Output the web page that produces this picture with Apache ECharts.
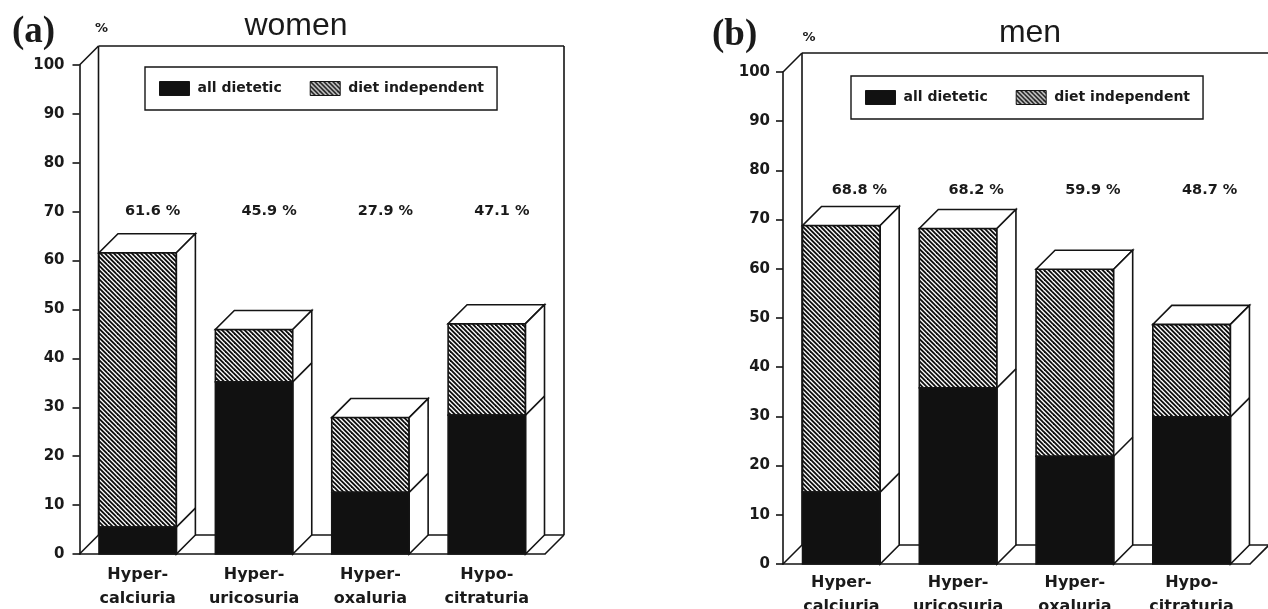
<!DOCTYPE html>
<html><head><meta charset="utf-8">
<script src="https://cdn.jsdelivr.net/npm/echarts/dist/echarts.min.js"></script>
<style>html,body{margin:0;padding:0;background:#fff}#c{width:1268px;height:609px}</style>
</head><body><div id="c"></div>
<script>
// ---- data ----
const categories = ['Hyper-\ncalciuria', 'Hyper-\nuricosuria', 'Hyper-\noxaluria', 'Hypo-\ncitraturia'];
const womenTotal = [61.6, 45.9, 27.9, 47.1];
const womenDietetic = [5.5, 35.2, 12.6, 28.4];
const menTotal = [68.8, 68.2, 59.9, 48.7];
const menDietetic = [14.6, 35.8, 21.9, 29.9];
const seriesNames = ['all dietetic', 'diet independent'];
const panelTitles = ['women', 'men'];
const panelTags = ['(a)', '(b)'];
const yMin = 0, yMax = 100, yStep = 10;

// ---- styles ----
const DX = 19, DY = -19;
const BAR_RATIO = 0.665;
const INK = '#141414';
const BLACK = '#111111';
const SANS = 'DejaVu Sans';
const LW = 1.6;

function makeHatch() {
  const n = 9;
  const c = document.createElement('canvas');
  c.width = n; c.height = n;
  const g = c.getContext('2d');
  g.fillStyle = '#fff'; g.fillRect(0, 0, n, n);
  g.strokeStyle = '#0e0e0e'; g.lineWidth = 1.9;
  for (let k = -4; k <= 4; k++) {
    const o = k * 4.5;
    g.beginPath(); g.moveTo(o - 3, -3); g.lineTo(o + n + 3, n + 3); g.stroke();
  }
  return c;
}
const HATCH = { image: makeHatch(), repeat: 'repeat' };

function frameRender(params, api) {
  const cs = params.coordSys;
  const x0 = cs.x, x1 = cs.x + cs.width, yT = cs.y, yB = cs.y + cs.height;
  const segs = [
    [x0, yT, x0 + DX, yT + DY],
    [x0 + DX, yT + DY, x1 + DX, yT + DY],
    [x0 + DX, yT + DY, x0 + DX, yB + DY],
    [x1 + DX, yT + DY, x1 + DX, yB + DY],
    [x0, yB, x0 + DX, yB + DY],
    [x0 + DX, yB + DY, x1 + DX, yB + DY],
    [x1, yB, x1 + DX, yB + DY]
  ];
  return { type: 'group', children: segs.map(s => ({
    type: 'line', shape: { x1: s[0], y1: s[1], x2: s[2], y2: s[3] },
    style: { stroke: INK, lineWidth: LW, fill: null }
  })) };
}

function dietRender(params, api) {
  const i = api.value(0);
  const base = api.coord([i, 0]);
  const mid = api.coord([i, api.value(1)]);
  const w = api.size([1, 0])[0] * BAR_RATIO;
  const L = base[0] - w / 2;
  return { type: 'rect', shape: { x: L, y: mid[1], width: w, height: base[1] - mid[1] },
    style: { fill: BLACK, stroke: INK, lineWidth: LW } };
}

function makeIndepRender(labelLevel, labelDx) {
  return function (params, api) {
    const i = api.value(0), d = api.value(1), t = api.value(2);
    const base = api.coord([i, 0]), mid = api.coord([i, d]), top = api.coord([i, t]);
    const w = api.size([1, 0])[0] * BAR_RATIO;
    const L = base[0] - w / 2, R = L + w;
    const st = { stroke: INK, lineWidth: LW };
    const ly = api.coord([i, labelLevel])[1];
    return { type: 'group', children: [
      { type: 'rect', shape: { x: L, y: top[1], width: w, height: mid[1] - top[1] },
        style: Object.assign({ fill: HATCH }, st) },
      { type: 'polygon', shape: { points: [[L, top[1]], [R, top[1]], [R + DX, top[1] + DY], [L + DX, top[1] + DY]] },
        style: Object.assign({ fill: '#fff' }, st) },
      { type: 'polygon', shape: { points: [[R, top[1]], [R + DX, top[1] + DY], [R + DX, base[1] + DY], [R, base[1]]] },
        style: Object.assign({ fill: '#fff' }, st) },
      { type: 'line', shape: { x1: R, y1: mid[1], x2: R + DX, y2: mid[1] + DY },
        style: { stroke: INK, lineWidth: LW } },
      { type: 'text', x: base[0] + labelDx, y: ly,
        style: { text: t.toFixed(1) + ' %', fill: '#1a1a1a', font: 'bold 14.5px "DejaVu Sans"', align: 'center', verticalAlign: 'middle' } }
    ] };
  };
}

const panels = [
  { grid: { left: 79.5, top: 65, width: 465.5, height: 489 }, total: womenTotal, diet: womenDietetic,
    labelLevel: 70, labelDx: 15, legend: { left: 145, top: 67 }, title: { left: 296, top: 10 },
    tag: { x: 12, y: 14 }, pct: [0, 0, 0, 44], nameGap: 30, xMargin: 9, yMargin: 15 },
  { grid: { left: 783, top: 72, width: 467, height: 492 }, total: menTotal, diet: menDietetic,
    labelLevel: 76, labelDx: 18, legend: { left: 851, top: 76 }, title: { left: 1030, top: 17 },
    tag: { x: 712, y: 17 }, pct: [0, 0, 0, 52], nameGap: 28, xMargin: 7, yMargin: 13 }
];

const option = {
  backgroundColor: '#fff',
  animation: false,
  title: panels.map((p, k) => ({
    text: panelTitles[k], left: p.title.left, top: p.title.top, textAlign: 'center', padding: 0,
    textStyle: { fontFamily: 'Liberation Sans', fontWeight: 'normal', fontSize: 32, color: '#1a1a1a' }
  })),
  graphic: panels.map((p, k) => ({
    type: 'text', left: p.tag.x, top: p.tag.y,
    style: { text: panelTags[k], fill: '#1a1a1a', font: 'bold 37px "Liberation Serif"' }
  })),
  legend: panels.map(p => ({
    data: seriesNames.map((n, j) => ({ name: n, itemStyle: j === 0 ? { color: BLACK, borderColor: INK, borderWidth: 1 } : { color: HATCH, borderColor: INK, borderWidth: 1 } })),
    left: p.legend.left, top: p.legend.top, orient: 'horizontal',
    padding: [14, 13, 14, 14], itemWidth: 30, itemHeight: 14, itemGap: 28,
    borderColor: INK, borderWidth: 1.4, selectedMode: false, icon: 'rect',
    textStyle: { fontFamily: SANS, fontWeight: 'bold', fontSize: 14, color: '#1a1a1a', padding: [0, 0, 0, 3] }
  })),
  grid: panels.map(p => Object.assign({ outerBoundsMode: 'none', containLabel: false }, p.grid)),
  xAxis: panels.map((p, k) => ({
    type: 'category', gridIndex: k, data: categories,
    axisLine: { show: true, lineStyle: { color: INK, width: LW } },
    axisTick: { show: false }, splitLine: { show: false },
    axisLabel: { interval: 0, margin: p.xMargin, fontFamily: SANS, fontWeight: 'bold', fontSize: 16, lineHeight: 24, color: '#1a1a1a' }
  })),
  yAxis: panels.map((p, k) => ({
    type: 'value', gridIndex: k, min: yMin, max: yMax, interval: yStep,
    name: '%', nameLocation: 'end', nameGap: p.nameGap,
    nameTextStyle: { fontFamily: SANS, fontWeight: 'bold', fontSize: 13, color: '#1a1a1a', align: 'center', padding: p.pct },
    axisLine: { show: true, lineStyle: { color: INK, width: LW } },
    axisTick: { show: true, inside: false, length: 7, lineStyle: { color: INK, width: LW } },
    splitLine: { show: false },
    axisLabel: { margin: p.yMargin, fontFamily: SANS, fontWeight: 'bold', fontSize: 15, color: '#1a1a1a' }
  })),
  series: []
};

panels.forEach((p, k) => {
  option.series.push({
    type: 'custom', name: 'frame' + k, xAxisIndex: k, yAxisIndex: k, silent: true, z: 1,
    renderItem: frameRender, data: [[0, 0]]
  });
  option.series.push({
    type: 'custom', name: seriesNames[0], xAxisIndex: k, yAxisIndex: k, z: 3,
    itemStyle: { color: BLACK },
    renderItem: dietRender, encode: { x: 0, y: 1 },
    data: categories.map((c, i) => [i, p.diet[i]])
  });
  option.series.push({
    type: 'custom', name: seriesNames[1], xAxisIndex: k, yAxisIndex: k, z: 2,
    itemStyle: { color: HATCH },
    renderItem: makeIndepRender(p.labelLevel, p.labelDx), encode: { x: 0, y: [1, 2] },
    data: categories.map((c, i) => [i, p.diet[i], p.total[i]])
  });
});

const chart = echarts.init(document.getElementById('c'), null, { renderer: 'canvas' });
chart.setOption(option);
</script></body></html>
